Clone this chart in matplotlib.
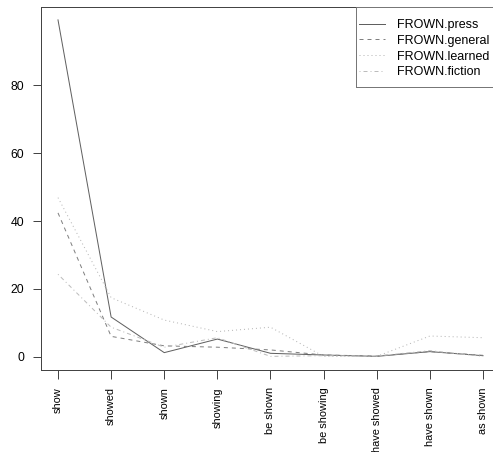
import matplotlib
matplotlib.use("Agg")
import matplotlib.pyplot as plt
from matplotlib.patches import Rectangle

categories = ["show", "showed", "shown", "showing", "be shown", "be showing",
              "have showed", "have shown", "as shown"]
press = [99.3, 11.7, 1.2, 5.2, 1.0, 0.5, 0.1, 1.5, 0.3]
general = [42.4, 6.0, 3.2, 2.8, 2.0, 0.5, 0.2, 1.5, 0.4]
learned = [46.9, 17.4, 10.8, 7.4, 8.7, 0.1, 0.1, 6.1, 5.6]
fiction = [24.3, 8.7, 2.8, 5.6, 0.1, 0.3, 0.2, 1.8, 0.1]
series_names = ["FROWN.press", "FROWN.general", "FROWN.learned", "FROWN.fiction"]
yticks = [0, 20, 40, 60, 80]

plt.rcParams['font.family'] = ['Liberation Sans', 'DejaVu Sans']

W, H = 493, 452
fig = plt.figure(figsize=(W / 72, H / 72), dpi=72)
L, R, T, B = 41, 500, 7, 370
ax = fig.add_axes([L / W, (H - B) / H, (R - L) / W, (B - T) / H])

x = list(range(1, len(categories) + 1))
styles = [
    dict(color="#606060", linestyle="-"),
    dict(color="#808080", linestyle=(0, (4, 4))),
    dict(color="#b4b4b4", linestyle=(0, (1, 3))),
    dict(color="#bcbcbc", linestyle=(0, (1, 3, 4, 3))),
]
for vals, name, st in zip([press, general, learned, fiction], series_names, styles):
    ax.plot(x, vals, linewidth=1.0, label=name, **st)

ax.set_xlim(0.68, 9.32)
ax.set_ylim(-3.92, 103.1)
ax.set_xticks(x)
ax.set_xticklabels(categories, rotation=90, fontsize=11)
ax.set_yticks(yticks)
ax.set_yticklabels([str(v) for v in yticks], fontsize=12.2)
ax.tick_params(axis='both', direction='out', length=8.5, width=1.0, color="#444444")
ax.tick_params(axis='x', pad=8.5)
ax.tick_params(axis='y', pad=8.5)
for sp in ax.spines.values():
    sp.set_color("#444444")
    sp.set_linewidth(1.0)

# legend frame (R style box in the top-right corner of the plot region)
fig.add_artist(Rectangle((356 / W, (H - 87) / H), (R - 356) / W, (87 - T) / H,
                         transform=fig.transFigure, fill=False,
                         edgecolor="#777777", linewidth=1.0, zorder=5))
leg = fig.legend(*ax.get_legend_handles_labels(), loc='upper left',
                 bbox_to_anchor=(359 / W, (H - 19) / H),
                 fontsize=12.5, frameon=False, handlelength=2.1,
                 handletextpad=0.95, labelspacing=0.3, borderpad=0.0,
                 borderaxespad=0.0)

fig.savefig("out.png", dpi=72)
